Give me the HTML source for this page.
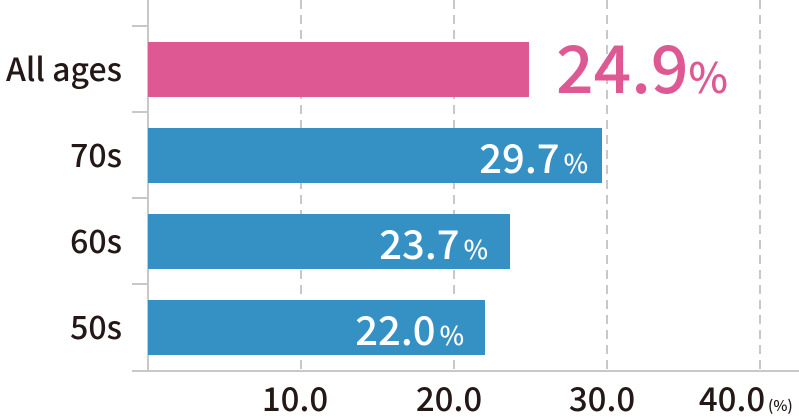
<!DOCTYPE html>
<html><head><meta charset="utf-8"><style>
html,body{margin:0;padding:0;background:#fff;}
svg{display:block;}
text{font-family:"Noto Sans CJK JP","Liberation Sans",sans-serif;font-weight:500;}
</style></head><body>
<svg width="799" height="417" viewBox="0 0 799 417" xmlns="http://www.w3.org/2000/svg">
<g stroke="#c8c8c8" stroke-width="2" stroke-dasharray="9,6">
<line x1="301" y1="0" x2="301" y2="370"/>
<line x1="454" y1="0" x2="454" y2="370"/>
<line x1="607" y1="0" x2="607" y2="370"/>
<line x1="760" y1="0" x2="760" y2="370"/>
</g>
<g stroke="#c8c8c8" stroke-width="2">
<line x1="148" y1="0" x2="148" y2="372"/>
<line x1="132" y1="371" x2="799" y2="371"/>
<line x1="132" y1="26" x2="148" y2="26"/>
<line x1="132" y1="112" x2="148" y2="112"/>
<line x1="132" y1="198" x2="148" y2="198"/>
<line x1="132" y1="284" x2="148" y2="284"/>
</g>
<rect x="148" y="42" width="381" height="55" fill="#de5993"/>
<rect x="148" y="128" width="454" height="55" fill="#3590c3"/>
<rect x="148" y="214" width="362" height="55" fill="#3590c3"/>
<rect x="148" y="300" width="337" height="55" fill="#3590c3"/>
<g fill="#231815" font-size="32" text-anchor="end">
<text x="122" y="81">All ages</text>
<text x="122" y="167">70s</text>
<text x="122" y="253">60s</text>
<text x="122" y="339">50s</text>
</g>
<text x="556" y="93" fill="#de5993" font-size="66">24.9<tspan font-size="42">%</tspan></text>
<g fill="#fff" font-size="40" text-anchor="end">
<text x="588" y="173">29.7<tspan font-size="26" dx="4">%</tspan></text>
<text x="488" y="259">23.7<tspan font-size="26" dx="4">%</tspan></text>
<text x="464" y="345">22.0<tspan font-size="26" dx="4">%</tspan></text>
</g>
<g fill="#231815" font-size="33" text-anchor="middle">
<text x="295" y="411">10.0</text>
<text x="449" y="411">20.0</text>
<text x="602" y="411">30.0</text>
<text x="732" y="411">40.0</text>
</g>
<text x="768" y="411" fill="#231815" font-size="15">(%)</text>
</svg>
</body></html>
